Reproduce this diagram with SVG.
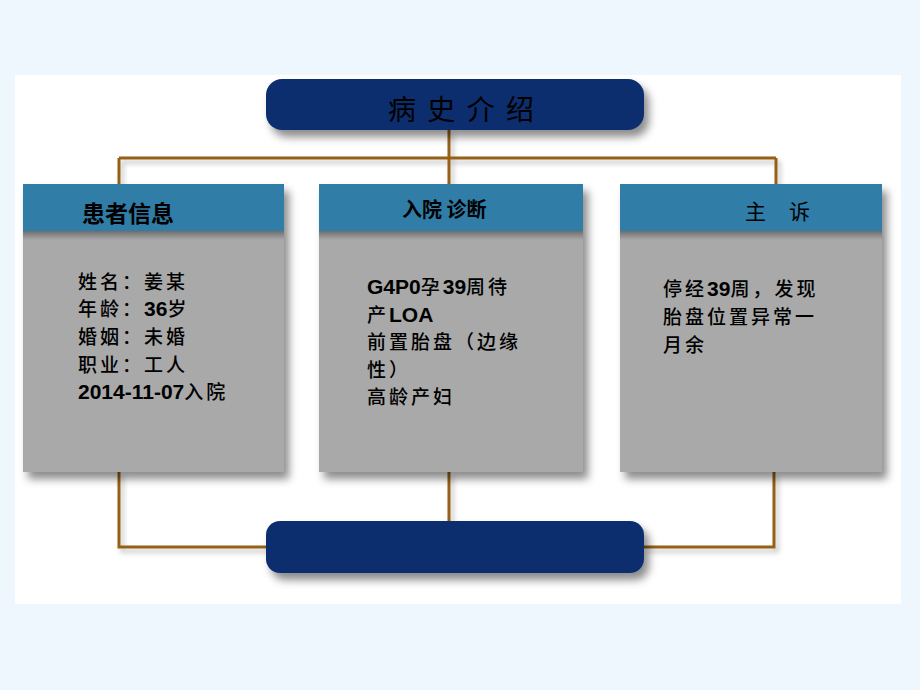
<svg xmlns="http://www.w3.org/2000/svg" width="920" height="690" viewBox="0 0 920 690">
<defs>
<filter id="sh" x="-10%" y="-10%" width="130%" height="140%">
<feDropShadow dx="5" dy="7" stdDeviation="4" flood-color="#000" flood-opacity="0.45"/>
</filter>
<filter id="lsh" x="-10%" y="-10%" width="130%" height="140%">
<feDropShadow dx="3" dy="4" stdDeviation="2.5" flood-color="#000" flood-opacity="0.25"/>
</filter>
<linearGradient id="hs" x1="0" y1="0" x2="0" y2="1">
<stop offset="0" stop-color="#000" stop-opacity="0.35"/>
<stop offset="1" stop-color="#000" stop-opacity="0"/>
</linearGradient>
</defs>
<style>
.bg{fill:#EEF6FE}
.panel{fill:#FFFFFF}
.con{stroke:#956015;stroke-width:3;fill:none}
.pill{fill:#0B2F6E}
.hdr{fill:#307DA7}
.body{fill:#A9A9A9}
.cjk{font-family:"Noto Sans CJK SC","Noto Sans",sans-serif;fill:#000}
.t{font-size:19px;letter-spacing:3px;font-weight:500}
.num{font-family:"Liberation Sans",Arial,sans-serif;font-weight:bold;font-size:21px;letter-spacing:0}
</style>
<rect class="bg" x="0" y="0" width="920" height="690"/>
<rect class="panel" x="15" y="75" width="886" height="529"/>

<g id="connectors" filter="url(#lsh)">
<path class="con" d="M449 130 V158 M119 158 H776 M119 158 V184 M449 158 V184 M776 158 V184"/>
<path class="con" d="M119 472 V547 H266 M449 472 V521 M774 472 V547 H644"/>
</g>

<g id="title">
<rect class="pill" x="266" y="79" width="378" height="51" rx="16" filter="url(#sh)"/>
<text class="cjk" x="388" y="120" font-size="28" textLength="146" lengthAdjust="spacing">病 史 介 绍</text>
</g>

<g id="bottom-pill">
<rect class="pill" x="266" y="521" width="378" height="52" rx="14" filter="url(#sh)"/>
</g>

<g id="patient-info">
<g filter="url(#sh)">
<rect class="body" x="23" y="184" width="261" height="288"/>
</g>
<rect class="hdr" x="23" y="184" width="261" height="47"/>
<rect x="23" y="231" width="261" height="9" fill="url(#hs)"/>
<text class="cjk" x="82" y="222" font-size="23" font-weight="bold">患者信息</text>
<text class="cjk t" x="78" y="289">姓名：姜某</text>
<text class="cjk t" x="78" y="316">年龄：<tspan class="num">36</tspan>岁</text>
<text class="cjk t" x="78" y="344">婚姻：未婚</text>
<text class="cjk t" x="78" y="372">职业：工人</text>
<text class="cjk t" x="78" y="399"><tspan class="num">2014-11-07</tspan>入院</text>
</g>

<g id="diagnosis">
<g filter="url(#sh)">
<rect class="body" x="319" y="184" width="264" height="288"/>
</g>
<rect class="hdr" x="319" y="184" width="264" height="47"/>
<rect x="319" y="231" width="264" height="9" fill="url(#hs)"/>
<text class="cjk" x="402" y="217" font-size="20" font-weight="bold">入院 诊断</text>
<text class="cjk t" x="367" y="294"><tspan class="num">G4P0</tspan>孕<tspan class="num">39</tspan>周待</text>
<text class="cjk t" x="367" y="322">产<tspan class="num">LOA</tspan></text>
<text class="cjk t" x="367" y="349">前置胎盘（边缘</text>
<text class="cjk t" x="367" y="377">性）</text>
<text class="cjk t" x="367" y="404">高龄产妇</text>
</g>

<g id="complaint">
<g filter="url(#sh)">
<rect class="body" x="620" y="184" width="262" height="288"/>
</g>
<rect class="hdr" x="620" y="184" width="262" height="47"/>
<rect x="620" y="231" width="262" height="9" fill="url(#hs)"/>
<text class="cjk" x="745" y="219" font-size="21">主</text>
<text class="cjk" x="789" y="219" font-size="21">诉</text>
<text class="cjk t" x="663" y="296">停经<tspan class="num">39</tspan>周，发现</text>
<text class="cjk t" x="663" y="324">胎盘位置异常一</text>
<text class="cjk t" x="663" y="352">月余</text>
</g>
</svg>
